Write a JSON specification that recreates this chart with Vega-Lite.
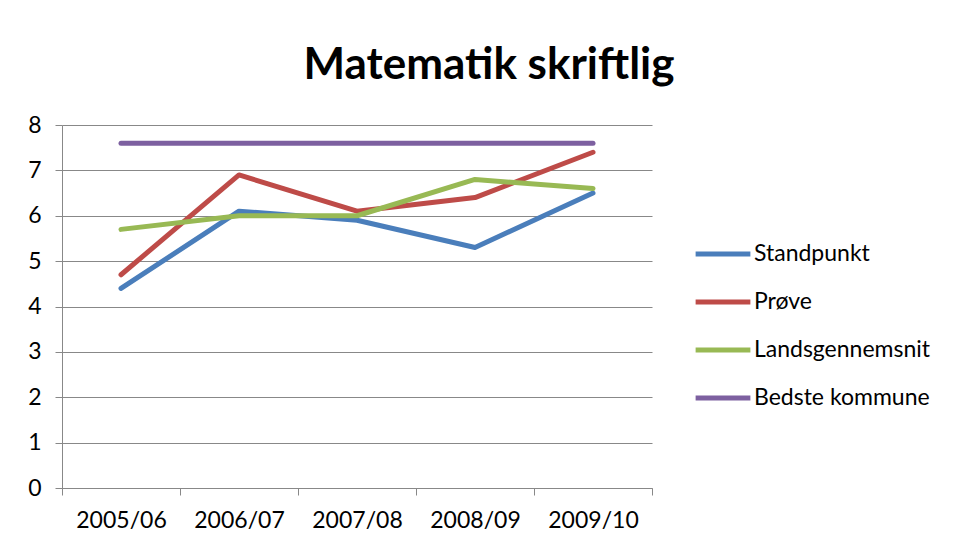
{
  "$schema": "https://vega.github.io/schema/vega-lite/v6.json",
  "width": 590,
  "height": 363,
  "autosize": {"type": "none"},
  "padding": {"left": 62, "top": 125, "right": 302, "bottom": 56},
  "background": "white",
  "title": {
    "text": "Matematik skriftlig",
    "font": "Lato",
    "fontSize": 44,
    "fontWeight": "bold",
    "color": "black",
    "anchor": "middle",
    "dx": 132,
    "offset": 26
  },
  "data": {
    "values": [
      {"year": "2005/06", "series": "Standpunkt", "value": 4.4},
      {"year": "2006/07", "series": "Standpunkt", "value": 6.1},
      {"year": "2007/08", "series": "Standpunkt", "value": 5.9},
      {"year": "2008/09", "series": "Standpunkt", "value": 5.3},
      {"year": "2009/10", "series": "Standpunkt", "value": 6.5},
      {"year": "2005/06", "series": "Prøve", "value": 4.7},
      {"year": "2006/07", "series": "Prøve", "value": 6.9},
      {"year": "2007/08", "series": "Prøve", "value": 6.1},
      {"year": "2008/09", "series": "Prøve", "value": 6.4},
      {"year": "2009/10", "series": "Prøve", "value": 7.4},
      {"year": "2005/06", "series": "Landsgennemsnit", "value": 5.7},
      {"year": "2006/07", "series": "Landsgennemsnit", "value": 6.0},
      {"year": "2007/08", "series": "Landsgennemsnit", "value": 6.0},
      {"year": "2008/09", "series": "Landsgennemsnit", "value": 6.8},
      {"year": "2009/10", "series": "Landsgennemsnit", "value": 6.6},
      {"year": "2005/06", "series": "Bedste kommune", "value": 7.6},
      {"year": "2006/07", "series": "Bedste kommune", "value": 7.6},
      {"year": "2007/08", "series": "Bedste kommune", "value": 7.6},
      {"year": "2008/09", "series": "Bedste kommune", "value": 7.6},
      {"year": "2009/10", "series": "Bedste kommune", "value": 7.6}
    ]
  },
  "mark": {"type": "line", "strokeWidth": 5, "strokeCap": "round", "strokeJoin": "round"},
  "encoding": {
    "x": {
      "field": "year",
      "type": "nominal",
      "bandPosition": 0.5,
      "scale": {"type": "band", "paddingInner": 0, "paddingOuter": 0},
      "axis": {
        "title": null,
        "labelAngle": 0,
        "tickBand": "extent",
        "grid": false,
        "domainColor": "#888888",
        "tickColor": "#888888",
        "tickSize": 7,
        "labelFont": "Lato",
        "labelFontSize": 23,
        "labelColor": "black",
        "labelPadding": 14
      }
    },
    "y": {
      "field": "value",
      "type": "quantitative",
      "scale": {"domain": [0, 8], "nice": false},
      "axis": {
        "title": null,
        "values": [0, 1, 2, 3, 4, 5, 6, 7, 8],
        "grid": true,
        "gridColor": "#888888",
        "domainColor": "#888888",
        "tickColor": "#888888",
        "tickSize": 7,
        "labelFont": "Lato",
        "labelFontSize": 23,
        "labelColor": "black",
        "labelPadding": 14
      }
    },
    "color": {
      "field": "series",
      "type": "nominal",
      "sort": ["Standpunkt", "Prøve", "Landsgennemsnit", "Bedste kommune"],
      "scale": {
        "domain": ["Standpunkt", "Prøve", "Landsgennemsnit", "Bedste kommune"],
        "range": ["#4a7ebb", "#be4b48", "#98b954", "#7d60a0"]
      },
      "legend": {
        "title": null,
        "orient": "none",
        "legendX": 631,
        "legendY": 99,
        "symbolType": "stroke",
        "symbolStrokeWidth": 5,
        "symbolSize": 3000,
        "labelFont": "Lato",
        "labelFontSize": 23,
        "labelColor": "black",
        "labelOffset": 1,
        "labelLimit": 400,
        "rowPadding": 6
      }
    }
  },
  "config": {"view": {"stroke": null}}
}
